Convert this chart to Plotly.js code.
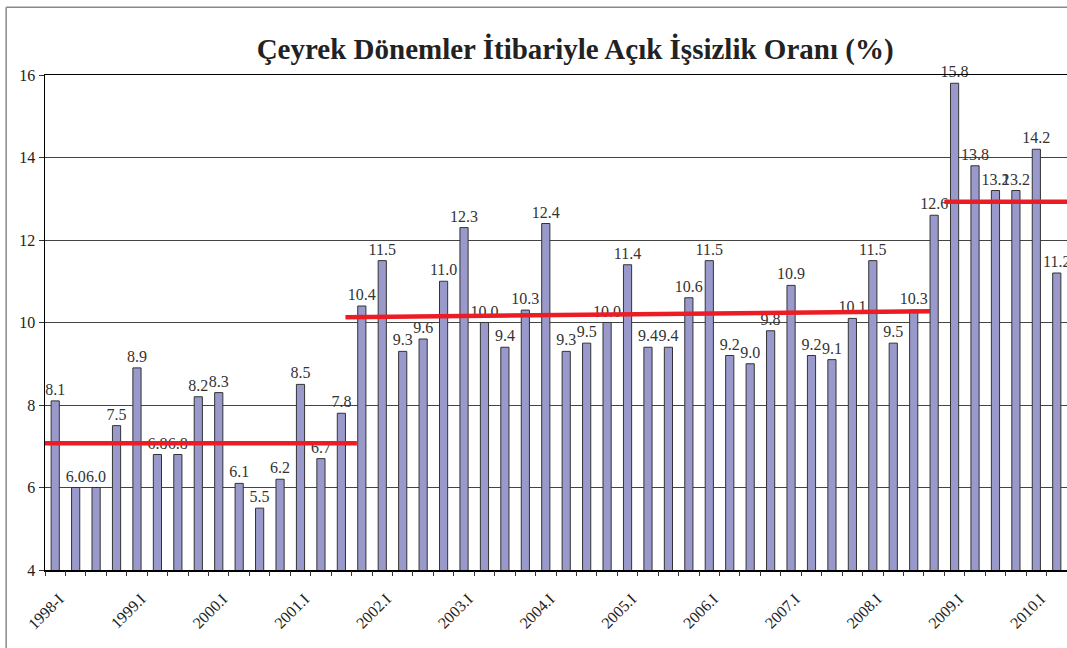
<!DOCTYPE html>
<html>
<head>
<meta charset="utf-8">
<script src="https://cdn.plot.ly/plotly-3.0.1.min.js"></script>
<style>html,body{margin:0;padding:0;background:#fff;}#chart{width:1067px;height:648px;}</style>
</head>
<body>
<div id="chart"></div>
<script>
// Quarterly open unemployment rate, 1998.I – 2010.II
const quarters = [
  "1998.I","1998.II","1998.III","1998.IV",
  "1999.I","1999.II","1999.III","1999.IV",
  "2000.I","2000.II","2000.III","2000.IV",
  "2001.I","2001.II","2001.III","2001.IV",
  "2002.I","2002.II","2002.III","2002.IV",
  "2003.I","2003.II","2003.III","2003.IV",
  "2004.I","2004.II","2004.III","2004.IV",
  "2005.I","2005.II","2005.III","2005.IV",
  "2006.I","2006.II","2006.III","2006.IV",
  "2007.I","2007.II","2007.III","2007.IV",
  "2008.I","2008.II","2008.III","2008.IV",
  "2009.I","2009.II","2009.III","2009.IV",
  "2010.I","2010.II"
];
const rates = [
  8.1, 6.0, 6.0, 7.5,
  8.9, 6.8, 6.8, 8.2,
  8.3, 6.1, 5.5, 6.2,
  8.5, 6.7, 7.8, 10.4,
  11.5, 9.3, 9.6, 11.0,
  12.3, 10.0, 9.4, 10.3,
  12.4, 9.3, 9.5, 10.0,
  11.4, 9.4, 9.4, 10.6,
  11.5, 9.2, 9.0, 9.8,
  10.9, 9.2, 9.1, 10.1,
  11.5, 9.5, 10.3, 12.6,
  15.8, 13.8, 13.2, 13.2,
  14.2, 11.2
];
// x-axis tick labels (every 4th quarter)
const tickIdx = [0, 4, 8, 12, 16, 20, 24, 28, 32, 36, 40, 44, 48];
const tickLabels = ["1998-I","1999.I","2000.I","2001.I","2002.I","2003.I","2004.I","2005.I","2006.I","2007.I","2008.I","2009.I","2010.I"];
// period average lines (start index, end index, start value, end value)
const avgStartX = [-0.5, 14.2, 43.5];
const avgEndX   = [14.76, 42.8, 49.5];
const avgStartY = [7.07, 10.13, 12.93];
const avgEndY   = [7.07, 10.27, 12.93];

const xIdx = rates.map((_, i) => i);
const serif = "Liberation Serif";

const traces = [{
  type: "bar",
  x: xIdx,
  y: rates,
  customdata: quarters,
  marker: {color: "#9999cc", line: {color: "#333333", width: 1}},
  width: 0.4,
  text: rates.map(v => v.toFixed(1)),
  textposition: "outside",
  constraintext: "none",
  textfont: {family: serif, size: 16, color: "#333333"},
  cliponaxis: false,
  hoverinfo: "x+y",
  showlegend: false
}];
for (let k = 0; k < avgStartX.length; k++) {
  traces.push({
    type: "scatter", mode: "lines",
    x: [avgStartX[k], avgEndX[k]],
    y: [avgStartY[k], avgEndY[k]],
    line: {color: "#ec1c24", width: 4.5},
    cliponaxis: false,
    showlegend: false,
    hoverinfo: "skip"
  });
}
// invisible trace on overlay axis for category boundary ticks
traces.push({type: "scatter", mode: "none", x: [-0.5, 49.5], y: [4, 4], xaxis: "x2", yaxis: "y", showlegend: false, hoverinfo: "skip"});

const boundaries = [];
for (let i = 0; i <= rates.length; i++) boundaries.push(i - 0.5);

const layout = {
  width: 1067, height: 648,
  margin: {l: 45, r: 0, t: 75, b: 78},
  paper_bgcolor: "#ffffff", plot_bgcolor: "#ffffff",
  title: {
    text: "<b>Çeyrek Dönemler İtibariyle Açık İşsizlik Oranı (%)</b>",
    font: {family: serif, size: 29, color: "#222222"},
    x: 0.539, xanchor: "center", y: 0.925, yanchor: "middle"
  },
  bargap: 0.6,
  xaxis: {
    range: [-0.5, 49.5],
    tickmode: "array", tickvals: tickIdx, ticktext: tickLabels,
    tickangle: -45, ticks: "",
    ticklabelstandoff: 12, ticklabelshift: 4,
    tickfont: {family: serif, size: 16, color: "#222222"},
    showgrid: false, zeroline: false,
    showline: true, linecolor: "#000000", linewidth: 1.5, mirror: true
  },
  xaxis2: {
    overlaying: "x", range: [-0.5, 49.5],
    tickmode: "array", tickvals: boundaries,
    ticks: "outside", ticklen: 5, tickcolor: "#333333",
    showticklabels: false, showgrid: false, zeroline: false, showline: false
  },
  yaxis: {
    range: [4, 16], dtick: 2, tick0: 4,
    ticks: "outside", ticklen: 5, tickcolor: "#333333",
    tickfont: {family: serif, size: 16, color: "#222222"},
    showgrid: true, gridcolor: "#444444", gridwidth: 1,
    zeroline: false,
    showline: true, linecolor: "#000000", linewidth: 1.5, mirror: true
  },
  shapes: [
    {type: "line", xref: "paper", yref: "paper", x0: -0.038, x1: -0.038, y0: 1.137, y1: -0.2, line: {color: "#888888", width: 1.5}},
    {type: "line", xref: "paper", yref: "paper", x0: -0.038, x1: 1.01, y0: 1.137, y1: 1.137, line: {color: "#888888", width: 1.5}}
  ]
};

Plotly.newPlot("chart", traces, layout, {displayModeBar: false, staticPlot: true});
</script>
</body>
</html>
